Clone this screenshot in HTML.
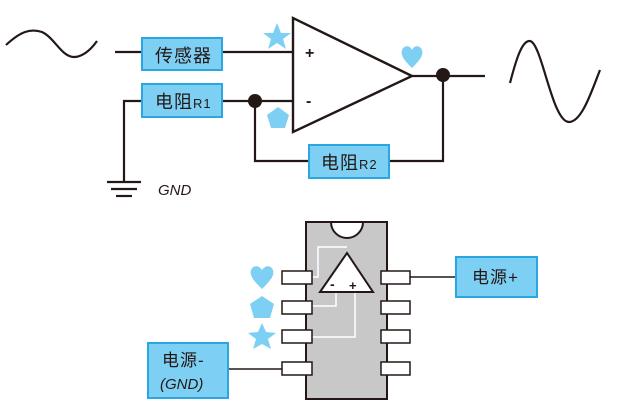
<!DOCTYPE html>
<html><head><meta charset="utf-8"><style>
html,body{margin:0;padding:0;background:#fff;}
svg{display:block}
text{font-family:"Liberation Sans","Noto Sans CJK SC",sans-serif;fill:#231815}
</style></head><body>
<svg width="619" height="407" viewBox="0 0 619 407" xmlns="http://www.w3.org/2000/svg">
<g fill="none" stroke="#231815" stroke-width="2.2">
<path d="M6,45 C20,32 30,28 42,32 C55,38 62,58 75,57 C85,56 92,48 97,41"/>
<path d="M510,83 C516,60 522,40 530,41 C542,43 552,122 569,122 C582,122 592,90 600,70"/>
<line x1="115" y1="52" x2="293" y2="52"/>
<line x1="222" y1="101" x2="293" y2="101"/>
<polyline points="142,101 124,101 124,182"/>
<line x1="107" y1="182" x2="141" y2="182"/>
<line x1="111" y1="189" x2="137" y2="189"/>
<line x1="116" y1="196" x2="132" y2="196"/>
<polyline points="255,101 255,161 309,161"/>
<polyline points="389,161 443,161 443,75"/>
<line x1="412" y1="76" x2="485" y2="76"/>
<polygon points="293,18 293,132 412,76" stroke-width="2.4"/>
<line x1="410" y1="277" x2="456" y2="277" stroke-width="1.5"/>
<line x1="228" y1="369" x2="282" y2="369" stroke-width="1.5"/>
</g>
<circle cx="255" cy="101" r="7" fill="#231815"/>
<circle cx="443" cy="75" r="7" fill="#231815"/>
<text x="305" y="58" font-size="16" font-weight="bold">+</text>
<text x="306" y="106" font-size="16" font-weight="bold">-</text>
<g fill="#7ecff4" stroke="#2aa7e0" stroke-width="2">
<rect x="142" y="38" width="80" height="32"/>
<rect x="142" y="84" width="80" height="33"/>
<rect x="309" y="145" width="80" height="33"/>
<rect x="456" y="257" width="81" height="40"/>
<rect x="148" y="343" width="80" height="55"/>
</g>
<text x="155" y="62" font-size="18" letter-spacing="1">传感器</text>
<text x="155" y="108" font-size="18" letter-spacing="1">电阻<tspan font-size="13">R1</tspan></text>
<text x="321" y="169" font-size="18" letter-spacing="1">电阻<tspan font-size="13">R2</tspan></text>
<text x="472" y="283" font-size="17" letter-spacing="1">电源+</text>
<text x="162" y="366" font-size="17" letter-spacing="1">电源-</text>
<text x="160" y="389" font-size="15" font-style="italic">(GND)</text>
<text x="158" y="195" font-size="15" font-style="italic">GND</text>
<g fill="#7ecff4">
<polygon points="277,23 281,33 291,33 283,39 286,49 277,43 268,49 271,39 263,33 273,33"/>
<polygon points="278,107 289,115 285,128 271,128 267,115"/>
<path d="M412,68 C406,62 400,56 402,50 C404,45 410,45 412,50 C414,45 420,45 422,50 C424,56 418,62 412,68Z"/>
<path d="M262,289 C255,282 249,276 251,270 C253,265 259,265 262,270 C265,265 271,265 273,270 C275,276 269,282 262,289Z"/>
<polygon points="262,296 274,304 270,318 254,318 250,304"/>
<polygon points="262,323 266,332 276,333 268,339 271,349 262,344 253,349 256,339 248,333 258,332"/>
</g>
<rect x="306" y="222" width="81" height="177" fill="#c8c8c8" stroke="#231815" stroke-width="2"/>
<path d="M331,222 A16,16 0 0 0 363,222 Z" fill="#fff" stroke="#231815" stroke-width="2"/>
<g fill="none" stroke="#fff" stroke-width="1.5">
<polyline points="312,277 318,277 318,247 347,247"/>
<polyline points="312,306 336,306 336,293"/>
<polyline points="312,337 355,337 355,293"/>
</g>
<polygon points="320,292 347,253 373,292" fill="#fff" stroke="#231815" stroke-width="2"/>
<text x="330" y="289" font-size="14" font-weight="bold">-</text>
<text x="349" y="290" font-size="13" font-weight="bold">+</text>
<g fill="#fff" stroke="#231815" stroke-width="1.5">
<rect x="282" y="271" width="30" height="13"/>
<rect x="282" y="301" width="30" height="13"/>
<rect x="282" y="330" width="30" height="13"/>
<rect x="282" y="362" width="30" height="13"/>
<rect x="381" y="271" width="29" height="13"/>
<rect x="381" y="301" width="29" height="13"/>
<rect x="381" y="330" width="29" height="13"/>
<rect x="381" y="362" width="29" height="13"/>
</g>
</svg>
</body></html>
